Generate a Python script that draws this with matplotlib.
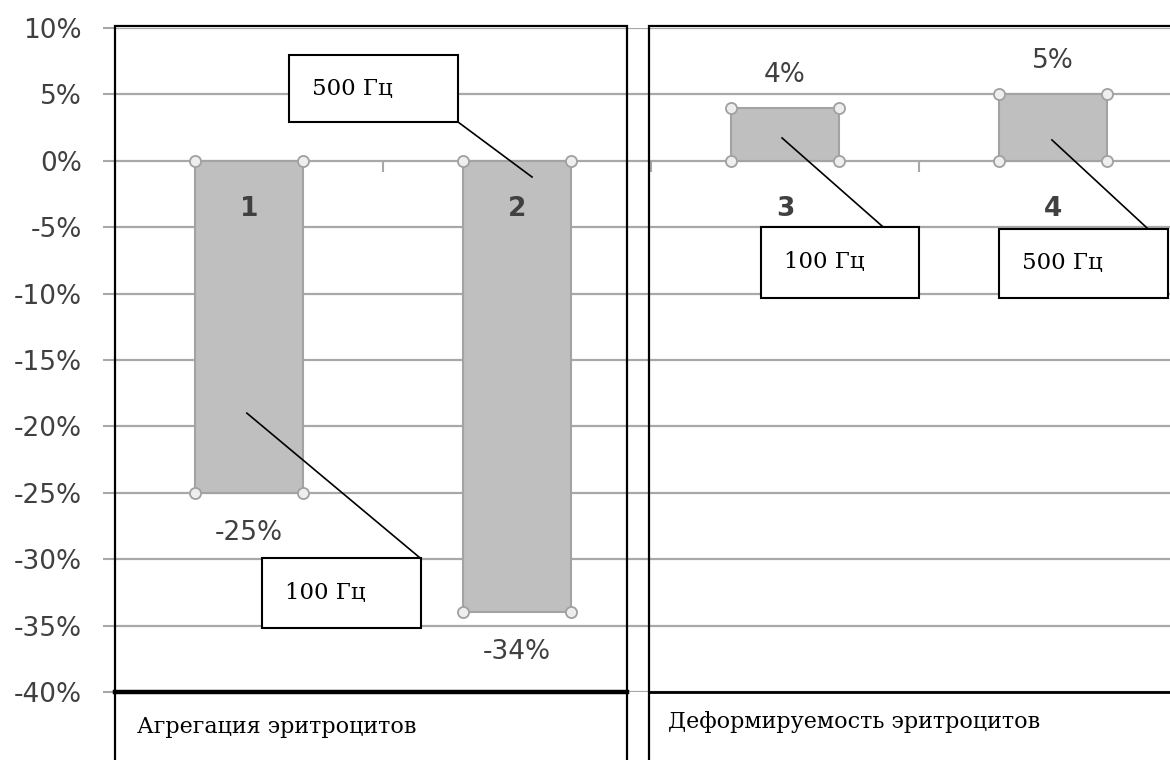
import matplotlib
matplotlib.use('Agg')
import matplotlib.pyplot as plt
from matplotlib.patches import Rectangle

# data
groups = ['Агрегация эритроцитов', 'Деформируемость эритроцитов']
bar_ids = ['1', '2', '3', '4']
changes = [-25, -34, 4, 5]
freqs = ['100 Гц', '500 Гц', '100 Гц', '500 Гц']
y_ticks = list(range(10, -45, -5))

# callout boxes (data units) and the leader lines into the bars
box_x = [0.05, 0.15, 1.91, 2.80]
box_y = [-35.2, 2.9, -10.3, -10.3]
box_w = [0.59, 0.63, 0.59, 0.63]
box_h = [5.3, 5.05, 5.35, 5.2]
lead_from = [(0.638, -29.9), (0.780, 2.92), (2.362, -4.91), (3.351, -5.06)]
lead_to = [(-0.008, -19.0), (1.056, -1.22), (1.989, 1.72), (2.996, 1.57)]

W, H = 1170, 760
GRID = '#a8a8a8'
TXT = '#404040'
SERIF = 'DejaVu Serif'
FS = 19

fig = plt.figure(figsize=(W / 100, H / 100), dpi=100)
ax = fig.add_axes([115 / W, (H - 692) / H, (W - 115) / W, (692 - 28) / H])
slot = 268  # px per category
x = list(range(len(changes)))
ax.set_xlim(-0.5, -0.5 + (W - 115) / slot)
ax.set_ylim(-40, 10)

for s in ax.spines.values():
    s.set_visible(False)
ax.spines['bottom'].set_position(('data', 0))

ax.set_yticks(y_ticks)
ax.set_yticklabels([f'{t}%' for t in y_ticks])
ax.tick_params(axis='y', length=8.6, width=1.5, color=GRID, labelsize=FS,
               labelcolor=TXT, pad=15)
ax.set_xticks([0.5, 1.5, 2.5])
ax.set_xticklabels([])
ax.tick_params(axis='x', length=8, width=1.5, color=GRID, direction='out')
ax.grid(axis='y', color=GRID, lw=1.6, zorder=0)
ax.set_axisbelow(True)

bw = 0.4
ax.bar(x, changes, width=bw, color='#bfbfbf', edgecolor='#a3a3a3', lw=1.5, zorder=3)

# selection handles at the bar corners
for i, v in zip(x, changes):
    ax.plot([i - bw / 2, i + bw / 2, i - bw / 2, i + bw / 2], [0, 0, v, v], 'o',
            ms=8, mfc='#eeeeee', mec='#a0a0a0', mew=1.3, ls='none', zorder=4)

for i, v in zip(x, changes):
    off = -40 if v < 0 else 33
    ax.annotate(f'{v}%', (i, v), xytext=(0, off * 0.72), textcoords='offset points',
                ha='center', va='center', fontsize=FS, color=TXT, zorder=5)
    ax.annotate(bar_ids[i], (i, 0), xytext=(0, -48 * 0.72), textcoords='offset points',
                ha='center', va='center', fontsize=FS, fontweight='bold', color=TXT, zorder=5)

for k in range(len(freqs)):
    ax.plot([lead_from[k][0], lead_to[k][0]], [lead_from[k][1], lead_to[k][1]],
            color='black', lw=1.2, zorder=6)
    ax.add_patch(Rectangle((box_x[k], box_y[k]), box_w[k], box_h[k], facecolor='white',
                           edgecolor='black', lw=1.5, zorder=7))
    ax.text(box_x[k] + 23 / slot, box_y[k] + box_h[k] / 2, freqs[k], ha='left', va='center',
            fontsize=16.5, family=SERIF, color='black', zorder=8)


# panel frames in figure pixels
def fx(p):
    return p / W


def fy(p):
    return 1 - p / H


for x0, x1, lw_bot in [(115, 627, 3.2), (649, 1185, 2.0)]:
    fig.add_artist(Rectangle((fx(x0), fy(780)), fx(x1) - fx(x0), fy(26) - fy(780),
                             transform=fig.transFigure, fill=False, edgecolor='black',
                             lw=1.6, zorder=10))
    fig.add_artist(plt.Line2D([fx(x0), fx(x1)], [fy(692), fy(692)],
                              transform=fig.transFigure, color='black', lw=lw_bot, zorder=10))

fig.text(fx(137), fy(727), groups[0], ha='left', va='center', fontsize=16,
         family=SERIF, color='black')
fig.text(fx(668), fy(722), groups[1], ha='left', va='center', fontsize=16,
         family=SERIF, color='black')

fig.savefig('out.png', dpi=100)
